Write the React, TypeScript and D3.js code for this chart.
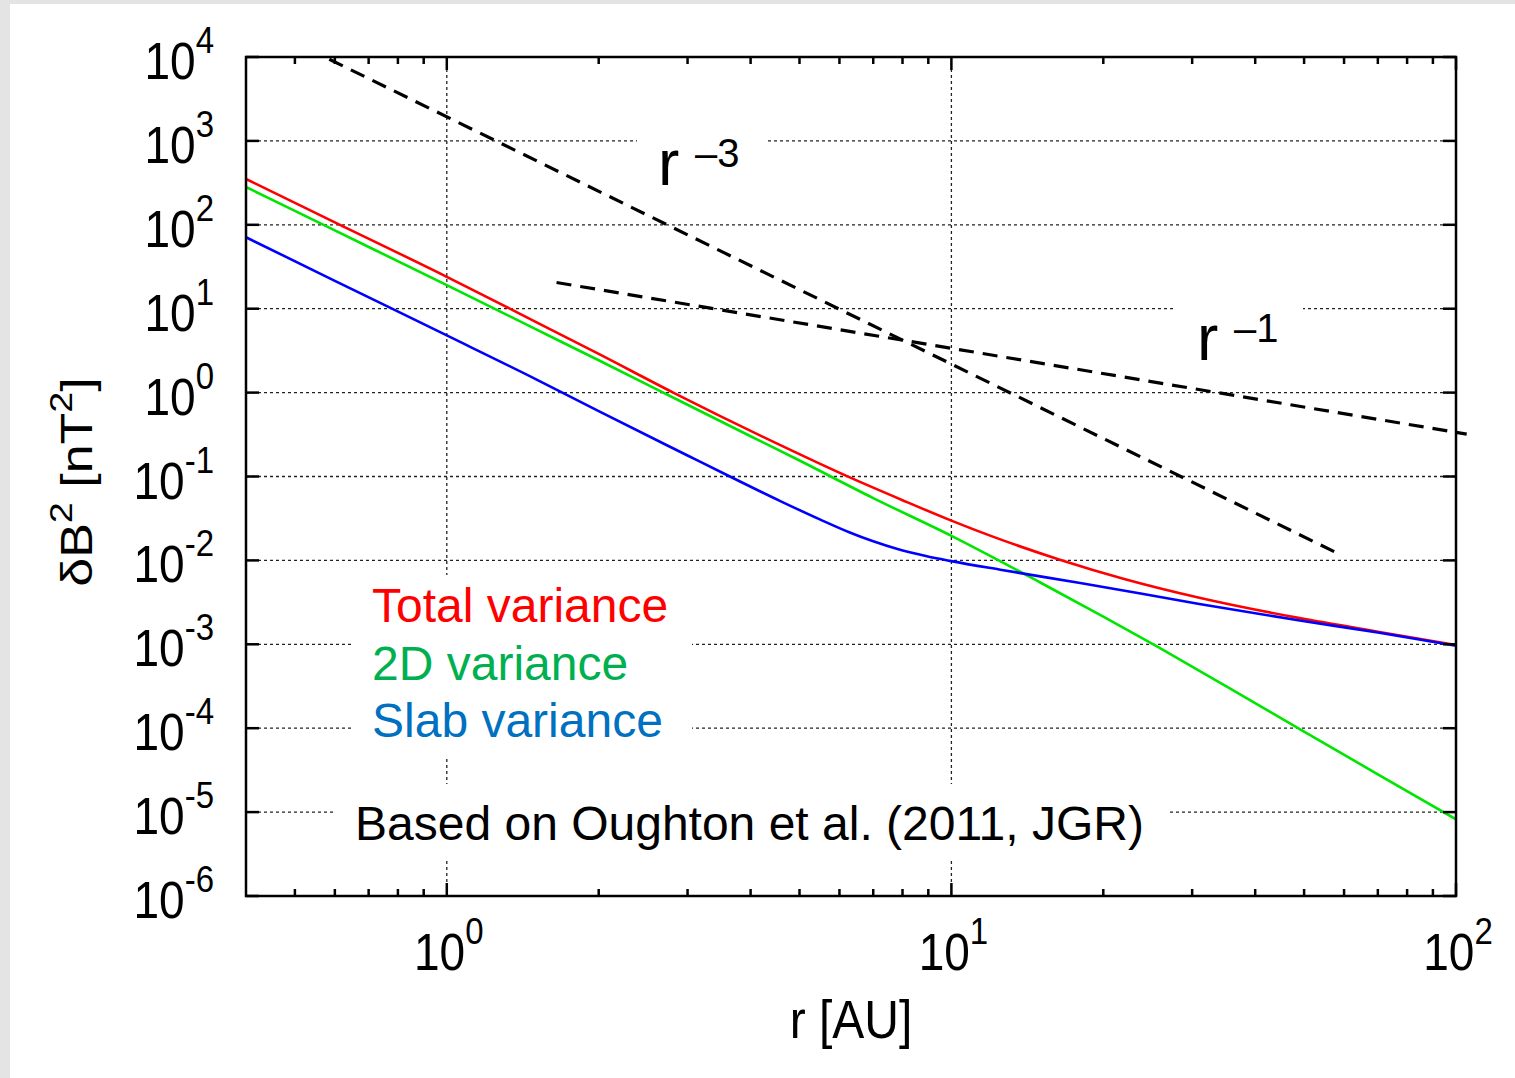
import React from "react";
import * as d3 from "d3";

// ---- data ----
const radiiTotal = [0.4, 0.6, 1, 1.5, 2, 2.81, 4.57, 6.29, 8, 10, 12.5, 16.4, 22, 31, 49, 70, 100];
const varTotal = [352, 107, 24, 6.97, 2.89, 1.0, 0.238, 0.0975, 0.0522, 0.0298, 0.0178, 0.0102, 0.00601, 0.00359, 0.00205, 0.00141, 0.00098];

const radii2D = [0.4, 0.6, 1, 1.5, 2, 3, 4, 5, 7, 10, 15, 20, 25.7, 35, 49.4, 70, 100];
const var2D = [282, 85.7, 19.1, 5.71, 2.43, 0.716, 0.302, 0.155, 0.0553, 0.0196, 0.00545, 0.00214, 0.000923, 0.000318, 0.000095, 0.0000282, 0.0000082];

const radiiSlab = [0.4, 0.6, 1, 1.5, 2, 3, 3.64, 4.57, 5.5, 6.29, 7, 7.79, 8.9, 10, 12.5, 18, 31, 49, 70, 100];
const varSlab = [71, 21.5, 4.8, 1.45, 0.6, 0.178, 0.1, 0.0513, 0.0306, 0.0215, 0.01687, 0.01374, 0.01127, 0.0098, 0.00774, 0.00538, 0.00303, 0.00192, 0.00138, 0.00096];

const guideR3Radii = [0.585, 59];
const guideR3Values = [9400, 0.0117];
const guideR1Radii = [1.65, 105];
const guideR1Values = [20.5, 0.32];

const yTickExps = [4, 3, 2, 1, 0, -1, -2, -3, -4, -5, -6];
const xTickExps = [0, 1, 2];
const xMinorTicks = [0.5, 0.6, 0.7, 0.8, 0.9, 2, 3, 4, 5, 6, 7, 8, 9, 20, 30, 40, 50, 60, 70, 80, 90];

const legendLabels = ["Total variance", "2D variance", "Slab variance"];
const legendColors = ["#ff0000", "#00b050", "#0070c0"];
const lineColors = ["#ff0000", "#00e600", "#0000ff"];
const sourceNote = "Based on Oughton et al. (2011, JGR)";

const W = 1515;
const H = 1078;
const L = 246, R = 1456, T = 57, B = 896;
const FONT = "'Liberation Sans', Arial, Helvetica, sans-serif";
const STRETCH = 1.13;

export default function App() {
  const x = d3.scaleLog().domain([0.4, 100]).range([L, R]);
  const y = d3.scaleLog().domain([1e-6, 1e4]).range([B, T]);

  const line = d3
    .line<[number, number]>()
    .x((d) => x(d[0]))
    .y((d) => y(d[1]))
    .curve(d3.curveMonotoneX);
  const straight = d3
    .line<[number, number]>()
    .x((d) => x(d[0]))
    .y((d) => y(d[1]));

  const zip = (a: number[], b: number[]) => a.map((v, i) => [v, b[i]] as [number, number]);
  const series = [zip(radiiTotal, varTotal), zip(radii2D, var2D), zip(radiiSlab, varSlab)];

  const gridDash = "3,3";

  return (
    <svg
      width={W}
      height={H}
      style={{ position: "absolute", left: 0, top: 0, display: "block" }}
      fontFamily={FONT}
    >
      <rect x={0} y={0} width={W} height={H} fill="#ffffff" />
      <rect x={0} y={0} width={W} height={4} fill="#e4e4e4" />
      <rect x={0} y={0} width={10} height={H} fill="#e4e4e4" />

      <defs>
        <clipPath id="plotclip">
          <rect x={L} y={T} width={R - L} height={B - T} />
        </clipPath>
      </defs>

      {/* grid */}
      {yTickExps
        .filter((e) => e < 4 && e > -6)
        .map((e) => (
          <line key={"gy" + e} x1={L} x2={R} y1={y(Math.pow(10, e))} y2={y(Math.pow(10, e))}
            stroke="#222" strokeWidth={1.3} strokeDasharray={gridDash} />
        ))}
      {xTickExps
        .filter((e) => e < 2)
        .map((e) => (
          <line key={"gx" + e} x1={x(Math.pow(10, e))} x2={x(Math.pow(10, e))} y1={T} y2={B}
            stroke="#222" strokeWidth={1.3} strokeDasharray={gridDash} />
        ))}

      {/* white label boxes hiding grid */}
      <rect x={637} y={118} width={128} height={78} fill="#fff" />
      <rect x={1173} y={292} width={130} height={78} fill="#fff" />
      <rect x={353} y={575} width={339} height={184} fill="#fff" />
      <rect x={335} y={784} width={833} height={76} fill="#fff" />

      {/* curves */}
      <g clipPath="url(#plotclip)">
        {series.map((s, i) => (
          <path key={"s" + i} d={line(s) || ""} fill="none" stroke={lineColors[i]} strokeWidth={2.6} />
        ))}
      </g>

      {/* guide lines */}
      <path d={straight(zip(guideR3Radii, guideR3Values)) || ""} fill="none" stroke="#000" strokeWidth={3.2} strokeDasharray="15,9" />
      <path d={straight(zip(guideR1Radii, guideR1Values)) || ""} fill="none" stroke="#000" strokeWidth={3.2} strokeDasharray="15,9" />

      {/* axes frame */}
      <rect x={L} y={T} width={R - L} height={B - T} fill="none" stroke="#000" strokeWidth={2.5} />

      {/* y ticks */}
      {yTickExps.map((e) => {
        const yy = y(Math.pow(10, e));
        return (
          <g key={"yt" + e}>
            <line x1={L} x2={L + 13} y1={yy} y2={yy} stroke="#000" strokeWidth={2.5} />
            <line x1={R} x2={R - 13} y1={yy} y2={yy} stroke="#000" strokeWidth={2.5} />
            <g transform={`translate(214, ${yy + 22}) scale(1, ${STRETCH})`}>
              <text x={0} y={0} textAnchor="end" fontSize={46} fill="#000">
                10
                <tspan fontSize={33} dy={-23}>{String(e)}</tspan>
              </text>
            </g>
          </g>
        );
      })}

      {/* x ticks */}
      {xTickExps.map((e) => {
        const xx = x(Math.pow(10, e));
        return (
          <g key={"xt" + e}>
            <line x1={xx} x2={xx} y1={B} y2={B - 13} stroke="#000" strokeWidth={2.5} />
            <line x1={xx} x2={xx} y1={T} y2={T + 13} stroke="#000" strokeWidth={2.5} />
            <g transform={`translate(${xx + 2}, 970) scale(1, ${STRETCH})`}>
              <text x={0} y={0} textAnchor="middle" fontSize={46} fill="#000">
                10
                <tspan fontSize={33} dy={-23}>{String(e)}</tspan>
              </text>
            </g>
          </g>
        );
      })}
      {xMinorTicks.map((v) => (
        <g key={"xm" + v}>
          <line x1={x(v)} x2={x(v)} y1={B} y2={B - 7} stroke="#000" strokeWidth={2.5} />
          <line x1={x(v)} x2={x(v)} y1={T} y2={T + 7} stroke="#000" strokeWidth={2.5} />
        </g>
      ))}

      {/* axis titles */}
      <g transform={`translate(851, 1038) scale(1, ${STRETCH})`}>
        <text x={0} y={0} textAnchor="middle" fontSize={48} fill="#000">r [AU]</text>
      </g>
      <g transform={`translate(92, 482) scale(1, 1.18) rotate(-90)`}>
        <text x={0} y={0} textAnchor="middle" fontSize={44} fill="#000">
          δB<tspan fontSize={32} dy={-20}>2</tspan>
          <tspan dy={20}> [nT</tspan>
          <tspan fontSize={32} dy={-20}>2</tspan>
          <tspan dy={20}>]</tspan>
        </text>
      </g>

      {/* guide labels */}
      <text x={658} y={185} fontSize={64} fill="#000">r</text>
      <text x={695} y={167} fontSize={40} fill="#000">–3</text>
      <text x={1197} y={360} fontSize={64} fill="#000">r</text>
      <text x={1234} y={342} fontSize={40} fill="#000">–1</text>

      {/* legend */}
      {legendLabels.map((lab, i) => (
        <text key={lab} x={372} y={622 + i * 57.5} fontSize={48} fill={legendColors[i]}>
          {lab}
        </text>
      ))}
      <text x={355} y={840} fontSize={48} fill="#000">{sourceNote}</text>
    </svg>
  );
}
